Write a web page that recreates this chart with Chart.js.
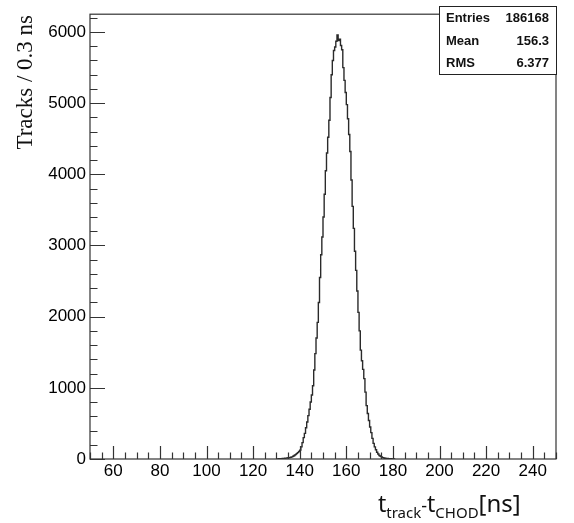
<!DOCTYPE html>
<html>
<head>
<meta charset="utf-8">
<script src="https://cdn.jsdelivr.net/npm/chart.js@4"></script>
<style>
  html, body { margin: 0; padding: 0; background: #fff; }
  #wrap { width: 574px; height: 523px; position: relative; }
</style>
</head>
<body>
<div id="wrap"><canvas id="c"></canvas></div>
<script>
// ---- data ----
const binStart = 130.0;      // ns, lower edge of first listed bin
const binWidth = 0.5;        // ns
const counts = [
  0, 2, 3, 4, 5, 7, 8, 10, 12, 14,
  17, 20, 24, 30, 38, 50, 62, 75, 90, 105,
  125, 170, 230, 300, 360, 440, 520, 610, 700, 800,
  900, 1030, 1250, 1480, 1700, 1920, 2200, 2550, 2870, 3120,
  3400, 3720, 4050, 4300, 4520, 4760, 5080, 5400, 5600, 5740,
  5790, 5870, 5960, 5880, 5900, 5810, 5750, 5500, 5320, 5150,
  4980, 4780, 4560, 4320, 3920, 3550, 3240, 2920, 2650, 2360,
  2060, 1800, 1530, 1380, 1260, 1130, 940, 750, 640, 540,
  450, 370, 290, 220, 170, 130, 95, 70, 50, 38,
  28, 20, 14, 10, 8, 6, 5, 4, 3, 2,
  1, 0
];
const xTicks = [60, 80, 100, 120, 140, 160, 180, 200, 220, 240];
const yTicks = [0, 1000, 2000, 3000, 4000, 5000, 6000];
const xRange = [50, 250];
const yRange = [0, 6250];
const statsLabels = ["Entries", "Mean", "RMS"];
const statsValues = ["186168", "156.3", "6.377"];
const yTitle = "Tracks / 0.3 ns";

// histogram points at bin lower edges, plus closing edge
const points = counts.map((v, i) => ({ x: binStart + i * binWidth, y: v }));
points.push({ x: binStart + counts.length * binWidth, y: 0 });

const AX = '#333';

const rootStyle = {
  id: 'rootStyle',
  afterDraw(chart) {
    const { ctx, chartArea: a, scales: { x, y } } = chart;
    ctx.save();
    ctx.strokeStyle = AX;
    ctx.lineWidth = 1.2;
    // frame
    ctx.strokeRect(a.left, a.top, a.right - a.left, a.bottom - a.top);
    // x ticks (inward)
    ctx.beginPath();
    for (let v = xRange[0]; v <= xRange[1] + 1e-9; v += 5) {
      const px = Math.round(x.getPixelForValue(v)) + 0.5;
      const len = xTicks.includes(v) ? 13 : 6.5;
      ctx.moveTo(px, a.bottom);
      ctx.lineTo(px, a.bottom - len);
    }
    // y ticks (inward)
    for (let v = yRange[0]; v <= yRange[1]; v += 200) {
      const py = Math.round(y.getPixelForValue(v)) + 0.5;
      const len = yTicks.includes(v) ? 15 : 7.5;
      ctx.moveTo(a.left, py);
      ctx.lineTo(a.left + len, py);
    }
    ctx.stroke();

    // y title
    ctx.fillStyle = '#111';
    ctx.save();
    ctx.translate(32, 15);
    ctx.rotate(-Math.PI / 2);
    ctx.font = '23px "Liberation Serif"';
    ctx.textAlign = 'right';
    ctx.textBaseline = 'alphabetic';
    ctx.fillText(yTitle, 0, 0);
    ctx.restore();

    // x title: t_track - t_CHOD [ns]
    const parts = [
      ['t', 23, 0], ['track', 15, 6], ['-', 18, 0], ['t', 23, 0], ['CHOD', 15, 6], ['[ns]', 24, 0]
    ];
    let tx = 378;
    const base = 512;
    ctx.textAlign = 'left';
    ctx.textBaseline = 'alphabetic';
    for (const [s, sz, dy] of parts) {
      ctx.font = sz + 'px "Noto Sans"';
      ctx.fillText(s, tx, base + dy);
      tx += ctx.measureText(s).width;
    }

    // stats box
    const bx = 439, by = 6, bw = a.right - 439, bh = 68;
    ctx.fillStyle = '#fff';
    ctx.fillRect(bx, by, bw, bh);
    ctx.strokeStyle = '#222';
    ctx.lineWidth = 1;
    ctx.strokeRect(bx + 0.5, by + 0.5, bw, bh);
    ctx.fillStyle = '#111';
    ctx.font = 'bold 13px "Liberation Sans"';
    ctx.textBaseline = 'middle';
    const rows = [18, 41, 63];
    statsLabels.forEach((l, i) => {
      ctx.textAlign = 'left';
      ctx.fillText(l, 446, rows[i]);
      ctx.textAlign = 'right';
      ctx.fillText(statsValues[i], 549, rows[i]);
    });
    ctx.restore();
  }
};

new Chart(document.getElementById('c'), {
  type: 'line',
  data: {
    datasets: [{
      data: points,
      stepped: 'before',
      borderColor: '#2a2a2a',
      borderWidth: 1.4,
      pointRadius: 0,
      fill: false,
      tension: 0
    }]
  },
  options: {
    responsive: true,
    maintainAspectRatio: false,
    animation: false,
    devicePixelRatio: 1,
    layout: { padding: { top: 7, right: 18, bottom: 0, left: 0 } },
    plugins: { legend: { display: false }, tooltip: { enabled: false }, title: { display: false } },
    scales: {
      x: {
        type: 'linear',
        min: xRange[0], max: xRange[1],
        afterBuildTicks: s => { s.ticks = xTicks.map(v => ({ value: v })); },
        afterFit: s => { s.height = 64; },
        grid: { display: false, drawTicks: false },
        border: { display: false },
        ticks: {
          padding: 2,
          color: '#000',
          font: { family: '"Liberation Sans"', size: 17 },
          maxRotation: 0, autoSkip: false,
          callback: v => String(v)
        }
      },
      y: {
        type: 'linear',
        min: yRange[0], max: yRange[1],
        afterBuildTicks: s => { s.ticks = yTicks.map(v => ({ value: v })); },
        afterFit: s => { s.width = 90; },
        grid: { display: false, drawTicks: false },
        border: { display: false },
        ticks: {
          padding: 4,
          color: '#000',
          font: { family: '"Liberation Sans"', size: 17 },
          callback: v => String(v)
        }
      }
    }
  },
  plugins: [rootStyle]
});
</script>
</body>
</html>
